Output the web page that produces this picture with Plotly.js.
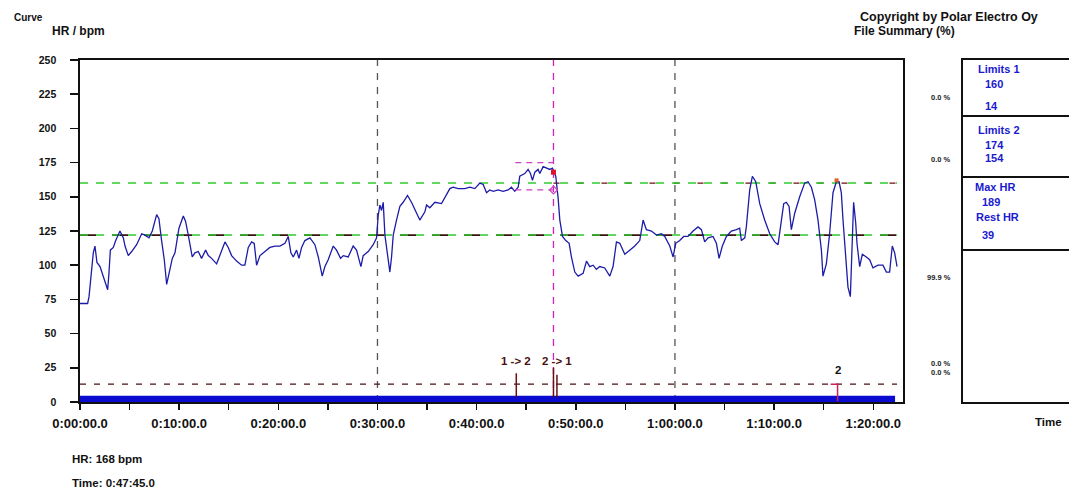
<!DOCTYPE html>
<html>
<head>
<meta charset="utf-8">
<script src="https://cdn.plot.ly/plotly-3.0.1.min.js"></script>
<style>
  html, body { margin: 0; padding: 0; background: #ffffff; }
  #chart { width: 1069px; height: 491px; }
</style>
</head>
<body>
<div id="chart"></div>
<script>
// ---- Data (time in minutes, HR in bpm) ----
const timeMin = [
  0.00,0.77,0.91,1.11,1.34,1.51,1.71,2.02,2.35,2.79,2.92,3.06,3.36,3.60,4.03,4.37,4.54,4.87,5.21,5.71,
  6.22,6.55,6.96,7.29,7.73,7.96,8.23,8.50,8.74,8.97,9.31,9.58,9.98,10.42,10.65,10.92,11.19,11.32,11.59,11.93,
  12.26,12.67,12.94,13.27,13.78,14.28,14.62,14.95,15.29,15.79,16.30,16.63,16.97,17.31,17.57,17.81,18.15,18.65,19.15,19.66,
  20.16,20.67,21.00,21.27,21.51,21.84,22.08,22.35,22.68,23.19,23.69,24.03,24.43,24.70,25.03,25.54,25.87,26.28,26.55,27.05,
  27.55,27.89,28.33,28.56,29.07,29.57,29.91,30.07,30.24,30.41,30.58,30.75,30.98,31.25,31.42,31.59,31.92,32.26,32.59,33.03,
  33.43,33.84,34.27,34.78,34.95,35.28,35.79,36.46,36.79,37.30,37.63,38.14,38.81,39.31,39.82,40.32,40.66,41.00,41.33,41.67,
  42.17,42.67,43.18,43.51,43.85,44.19,44.35,44.86,45.19,45.43,45.63,45.87,46.20,46.37,46.71,47.04,47.38,47.65,47.98,48.22,
  48.39,48.66,48.99,49.33,49.56,49.90,50.24,50.74,51.08,51.41,51.75,52.08,52.42,52.92,53.43,53.76,54.10,54.44,54.94,55.44,
  55.95,56.45,56.79,57.12,57.63,58.13,58.64,58.97,59.48,59.81,60.08,60.48,60.89,61.32,61.83,62.33,62.67,63.00,63.34,63.84,
  64.18,64.45,64.78,65.19,65.69,66.20,66.53,66.70,67.04,67.20,67.54,67.81,68.15,68.55,69.05,69.56,70.06,70.40,70.73,70.97,
  71.24,71.51,71.74,72.08,72.58,73.08,73.42,73.76,74.09,74.43,74.77,74.93,75.27,75.60,75.94,76.28,76.55,76.78,76.95,77.22,
  77.45,77.69,77.89,78.02,78.23,78.36,78.63,78.90,79.30,79.64,79.97,80.48,80.98,81.32,81.65,81.92,82.16,82.40
];
const hrBpm = [
  72,72,77,92,109,114,102,99,92,82,94,111,113,118,125,120,114,107,110,115,
  123,122,120,125,137,134,118,104,86,94,105,109,127,136,132,122,111,106,109,110,
  105,111,107,105,101,110,117,113,107,103,100,100,113,117,116,100,107,110,113,114,
  114,116,121,109,106,111,105,113,118,120,115,106,92,99,104,114,111,105,107,106,
  114,111,99,107,110,115,120,136,144,140,146,122,111,95,106,122,133,143,146,151,
  146,140,133,139,144,142,146,145,149,156,157,156,156,157,156,160,159,153,155,154,
  155,154,155,157,154,157,165,167,170,167,162,168,170,167,172,171,170,171,165,149,
  133,121,118,116,106,95,92,94,103,99,100,97,99,98,92,99,117,116,108,111,
  114,118,133,126,125,122,123,121,114,106,116,118,121,121,125,128,126,117,120,121,
  116,105,114,121,125,126,127,118,120,128,155,165,161,145,133,123,117,115,133,145,
  146,143,126,138,150,160,161,157,148,133,111,92,101,123,153,161,161,153,133,104,
  84,77,118,146,131,116,99,108,106,104,98,100,100,95,95,114,109,99
];

const xTickVals   = [0, 10, 20, 30, 40, 50, 60, 70, 80];
const xTickLabels = ["0:00:00.0","0:10:00.0","0:20:00.0","0:30:00.0","0:40:00.0","0:50:00.0","1:00:00.0","1:10:00.0","1:20:00.0"];
const yTickVals   = [0, 25, 50, 75, 100, 125, 150, 175, 200, 225, 250];

const limitUpper = 160;
const limitLower = 122;
const lapLineLevel = 13;
const verticalMarks = [30, 60];
const cursorTime = 47.75;      // 0:47:45.0
const cursorHR = 168;
const sessionEnd = 82.2;
const bandLevel = 4.5;

const zoneBoxTime = [43.9, 47.75];
const zoneBoxHR = [175, 155];

const lapTimes = [44.0, 47.75, 48.1];
const lapTops = [21, 25, 20];
const lapLabels = ["1 -> 2", "2 -> 1"];
const lapLabelTimes = [44.0, 48.1];
const lapLabelHR = 30;
const lap2Time = 76.4;
const lap2Label = "2";
const lap2Peak = [76.3, 162];

const panelTitles = ["Limits 1","160","14","Limits 2","174","154","Max HR","189","Rest HR","39"];
const panelPercents = ["0.0 %","0.0 %","99.9 %","0.0 %","0.0 %"];

// ---- Traces ----
const navy = "#1c1ca8";
const darkRed = "#6a1010";
const traces = [];

// bottom band
traces.push({
  x: [0, sessionEnd], y: [bandLevel, bandLevel], type: "scatter", mode: "lines",
  fill: "tozeroy", fillcolor: "#0a0ad0", line: {width: 0, color: "#0a0ad0"},
  hoverinfo: "skip", showlegend: false
});

// HR curve
traces.push({
  x: timeMin, y: hrBpm, type: "scatter", mode: "lines",
  line: {color: navy, width: 1.3}, showlegend: false
});

// lap marker verticals
lapTimes.forEach((t, i) => {
  traces.push({
    x: [t, t], y: [bandLevel - 1, lapTops[i]], type: "scatter", mode: "lines",
    line: {color: darkRed, width: 1.5}, showlegend: false, hoverinfo: "skip"
  });
});
// lap 2 marker
traces.push({
  x: [lap2Time - 0.7, lap2Time, lap2Time], y: [lapLineLevel, lapLineLevel, 0.5],
  type: "scatter", mode: "lines", line: {color: "#cc2255", width: 1.5},
  showlegend: false, hoverinfo: "skip"
});
// cursor marker & peak marker
traces.push({
  x: [cursorTime], y: [cursorHR], type: "scatter", mode: "markers",
  marker: {symbol: "square", size: 5, color: "#e0102a"}, showlegend: false
});
traces.push({
  x: [lap2Peak[0]], y: [lap2Peak[1]], type: "scatter", mode: "markers",
  marker: {symbol: "square", size: 4, color: "#e06020"}, showlegend: false
});
// small arrow at end of the lower zone-box line
traces.push({
  x: [zoneBoxTime[1]], y: [zoneBoxHR[1]], type: "scatter", mode: "markers",
  marker: {symbol: "diamond-open", size: 6, color: "#d040c0", line: {width: 1.2}}, showlegend: false
});

// ---- Shapes ----
const shapes = [];
const hline = (y, x0, x1, color, dash, width) => ({
  type: "line", xref: "x", yref: "y", x0: x0, x1: x1, y0: y, y1: y,
  line: {color: color, dash: dash, width: width || 1.3}, layer: "below"
});
shapes.push(hline(limitLower, 0, 83, "#3a1010", "16px,16px", 1.8));
shapes.push(hline(limitUpper, cursorTime, 82.4, darkRed, "6px,18px", 1.3));
shapes.push(hline(limitUpper, 0, 82.4, "#2ecc2e", "8px,8px", 1.5));
shapes.push(hline(limitLower, 0, 82.4, "#2ecc2e", "8px,8px", 1.5));
shapes.push(hline(lapLineLevel, 0, 82.4, "#4a1010", "6px,8px", 1.2));
verticalMarks.forEach(t => shapes.push({
  type: "line", xref: "x", yref: "paper", x0: t, x1: t, y0: 0, y1: 1,
  line: {color: "#555555", dash: "7px,7px", width: 1.3}, layer: "below"
}));
shapes.push({
  type: "line", xref: "x", yref: "paper", x0: cursorTime, x1: cursorTime, y0: 0, y1: 1,
  line: {color: "#d020c0", dash: "7px,7px", width: 1.3}, layer: "below"
});
zoneBoxHR.forEach(h => shapes.push({
  type: "line", xref: "x", yref: "y", x0: zoneBoxTime[0], x1: zoneBoxTime[1], y0: h, y1: h,
  line: {color: "#d040c0", dash: "6px,5px", width: 1.3}
}));

// right panel box (paper coords)
const boxX0 = 1.0717, boxX1 = 1.33;
shapes.push({type: "rect", xref: "paper", yref: "paper", x0: boxX0, x1: boxX1, y0: -0.003, y1: 1.003,
  line: {color: "#111", width: 2}});
[0.8363, 0.6579, 0.4444].forEach(y => shapes.push({
  type: "line", xref: "paper", yref: "paper", x0: boxX0, x1: boxX1, y0: y, y1: y,
  line: {color: "#111", width: 2}
}));

// ---- Annotations ----
const font = (size, color) => ({family: "Liberation Sans, Arial, sans-serif", size: size, color: color || "#111", weight: 700});
const ann = [];
const txt = (text, x, y, size, color, xanchor, xref, yref) => ({
  text: text, x: x, y: y, xref: xref || "paper", yref: yref || "paper",
  xanchor: xanchor || "left", yanchor: "middle", showarrow: false, font: font(size, color)
});
ann.push(txt("Curve", -0.0826, 1.1257, 10));
ann.push(txt("HR / bpm", -0.0365, 1.0848, 12));
ann.push(txt("Copyright by Polar Electro Oy", 0.9453, 1.1257, 12.5));
ann.push(txt("File Summary (%)", 0.9380, 1.0848, 12));
ann.push(txt("HR: " + cursorHR + " bpm", -0.0122, -0.1667, 11.5));
ann.push(txt("Time: 0:47:45.0", -0.0122, -0.2368, 11.5));
ann.push(txt("Time", 1.158, -0.0585, 11.5));

const panelX = [1.0887, 1.0972, 1.0972, 1.0887, 1.0972, 1.0972, 1.0851, 1.0936, 1.0863, 1.0936];
const panelY = [0.9737, 0.9298, 0.8655, 0.7953, 0.7515, 0.7135, 0.6287, 0.5848, 0.5409, 0.4883];
panelTitles.forEach((t, i) => ann.push(txt(t, panelX[i], panelY[i], 11, "#1a1ad0")));
const pctY = [0.8889, 0.7105, 0.3626, 0.1140, 0.0848];
panelPercents.forEach((t, i) => ann.push(txt(t, 1.0608, pctY[i], 7.5, "#222", "right")));

lapLabels.forEach((t, i) => ann.push(txt(t, lapLabelTimes[i], lapLabelHR, 11.5, "#4a1010", "center", "x", "y")));
ann.push(txt(lap2Label, lap2Time, 23.5, 11.5, "#111", "center", "x", "y"));

// ---- Layout ----
const axisFont = {family: "Liberation Sans, Arial, sans-serif", size: 13, color: "#111", weight: 700};
const layout = {
  width: 1069, height: 491,
  margin: {l: 80, r: 166, t: 60, b: 89},
  paper_bgcolor: "#ffffff", plot_bgcolor: "#ffffff",
  showlegend: false,
  xaxis: {
    range: [0, 83.0], tickvals: xTickVals, ticktext: xTickLabels,
    showgrid: false, zeroline: false, showline: true, mirror: true,
    linecolor: "#111", linewidth: 1.6, ticks: "outside", ticklen: 6, tickwidth: 1.5, tickcolor: "#111",
    minor: {dtick: 5, tick0: 0, ticks: "outside", ticklen: 6, tickwidth: 1.5, tickcolor: "#111", showgrid: false},
    tickfont: axisFont, ticklabelstandoff: 3
  },
  yaxis: {
    range: [0, 250], tickvals: yTickVals,
    showgrid: false, zeroline: false, showline: true, mirror: true,
    linecolor: "#111", linewidth: 1.6, ticks: "outside", ticklen: 8, tickwidth: 1.5, tickcolor: "#111",
    tickfont: {family: "Liberation Sans, Arial, sans-serif", size: 10.5, color: "#111", weight: 700},
    ticklabelstandoff: 12
  },
  shapes: shapes,
  annotations: ann
};

Plotly.newPlot("chart", traces, layout, {displayModeBar: false, staticPlot: true});
</script>
</body>
</html>
